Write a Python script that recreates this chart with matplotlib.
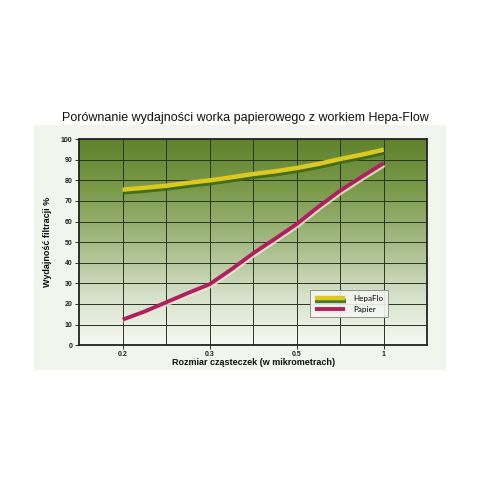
import matplotlib
matplotlib.use("Agg")
import matplotlib.pyplot as plt
import matplotlib.patheffects as pe
from matplotlib.colors import LinearSegmentedColormap
import numpy as np

# data (x = position on the category axis)
tick_labels = ["0.2", "0.3", "0.5", "1"]
tick_pos = [0, 1, 2, 3]
hepa_x = [0, 0.25, 0.5, 0.75, 1, 1.25, 1.5, 1.75, 2, 2.25, 2.5, 2.75, 3]
hepaflo = [75.5, 76.4, 77.4, 78.8, 80, 81.5, 83.1, 84.4, 86, 88, 90.4, 92.5, 94.9]
papier_x = [0, 0.25, 0.5, 0.75, 1.0, 1.25, 1.5, 1.75, 2.0, 2.25, 2.5, 2.75, 3.0]
papier = [12.4, 16.3, 20.8, 25.3, 29.6, 36.8, 44.6, 51.6, 58.8, 67.2, 75.0, 81.8, 88.4]

plt.rcParams['font.family'] = ['Liberation Sans', 'DejaVu Sans']

fig = plt.figure(figsize=(4.8, 4.8), dpi=100)
fig.patch.set_facecolor("white")

# faint pale backdrop behind the chart
backdrop = plt.Rectangle((0.07, 0.23), 0.86, 0.51, transform=fig.transFigure,
                         facecolor="#f1f5ee", edgecolor="none", zorder=-1)
fig.add_artist(backdrop)

ax = fig.add_axes([0.165, 0.281, 0.725, 0.429])
ax.set_zorder(1)

# green to white gradient background
cmap = LinearSegmentedColormap.from_list(
    "bg", [(0, "#f7f9f4"), (0.25, "#d3dfc6"), (0.5, "#a3ba83"), (0.75, "#7c9b4c"), (1, "#5f822c")])
grad = np.linspace(0, 1, 256).reshape(-1, 1)
ax.imshow(grad, cmap=cmap, aspect="auto", origin="lower",
          extent=[-0.5, 3.5, 0, 100], zorder=0)

ax.set_xlim(-0.5, 3.5)
ax.set_ylim(0, 100)

# grid
for gx in np.arange(0, 3.01, 0.5):
    ax.axvline(gx, color="#2a3320", lw=0.7, zorder=1)
for gy in range(10, 100, 10):
    ax.axhline(gy, color="#2a3320", lw=0.7, zorder=1)

ax.plot(hepa_x, hepaflo, color="#dcc920", lw=3.2, solid_capstyle="butt",
        solid_joinstyle="round", zorder=3, label="HepaFlo",
        path_effects=[pe.SimpleLineShadow(offset=(0.5, -2), shadow_color="#3f6a18", alpha=0.9),
                      pe.Normal()])
ax.plot(papier_x, papier, color="#b0205e", lw=2.8, solid_capstyle="butt",
        solid_joinstyle="round", zorder=3, label="Papier",
        path_effects=[pe.SimpleLineShadow(offset=(0.5, -1.5), shadow_color="#f0e8d8", alpha=0.8),
                      pe.Normal()])

ax.set_yticks(range(0, 101, 10))
ax.set_xticks(tick_pos)
ax.set_xticklabels(tick_labels)
ax.tick_params(axis="both", labelsize=5, length=3, width=0.7, color="#333333", pad=2)
ax.tick_params(axis="x", pad=1.5)
for lab in ax.get_xticklabels() + ax.get_yticklabels():
    lab.set_fontweight("bold")
    lab.set_color("#222222")

for sp in ax.spines.values():
    sp.set_color("#222222")
    sp.set_linewidth(1.3)

ax.set_xlabel("Rozmiar cząsteczek (w mikrometrach)", fontsize=6.5, fontweight="bold",
              color="#111111", labelpad=-0.5)
ax.set_ylabel("Wydajność filtracji %", fontsize=6.5, fontweight="bold",
              color="#111111", labelpad=6)

fig.text(0.512, 0.755, "Porównanie wydajności worka papierowego z workiem Hepa-Flow",
         ha="center", va="center", fontsize=9.0, color="#111111")

leg = ax.legend(loc="lower right", bbox_to_anchor=(0.9, 0.115),
                prop={"family": "Lato", "size": 5.8},
                frameon=True, fancybox=False, handlelength=3.8, borderpad=0.6,
                labelspacing=0.45, handletextpad=1.0)
leg.get_frame().set_edgecolor("#888888")
leg.get_frame().set_linewidth(0.7)
leg.get_frame().set_facecolor("#f4f6f1")
leg.get_frame().set_alpha(0.9)
leg.set_zorder(5)

fig.savefig("out.png", dpi=100)
